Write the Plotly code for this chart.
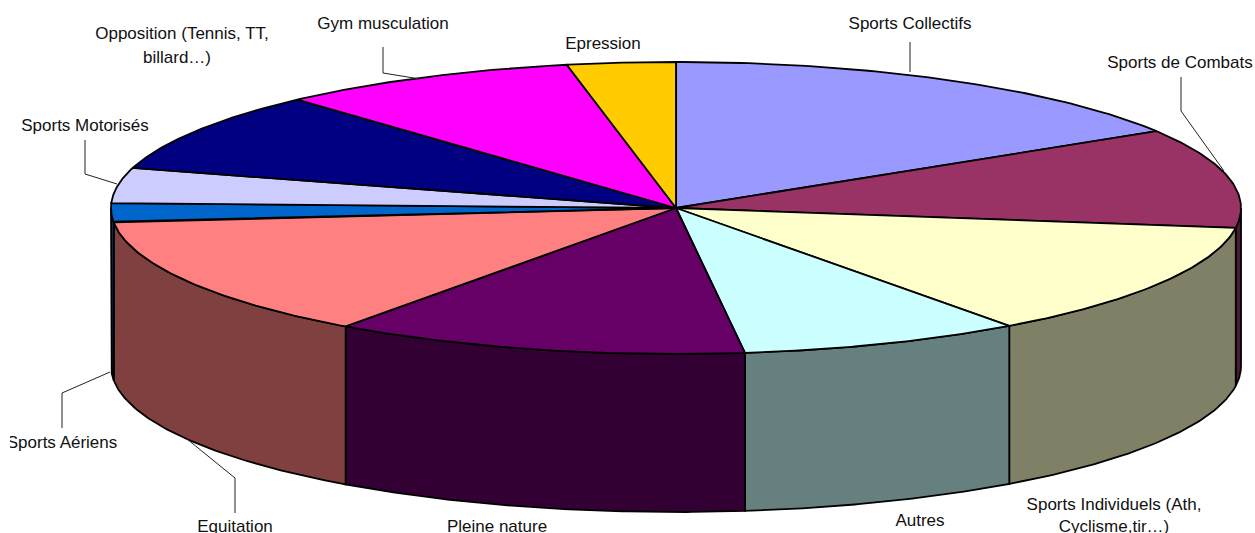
import numpy as np
import plotly.graph_objects as go

categories = ["Sports Collectifs", "Sports de Combats", "Sports Individuels (Ath, Cyclisme,tir…)",
              "Autres", "Pleine nature", "Equitation", "Sports Aériens", "Sports Motorisés",
              "Opposition (Tennis, TT, billard…)", "Gym musculation", "Epression"]
values = [16.2, 11.0, 12.8, 8.1, 11.9, 13.5, 2.1, 3.9, 8.9, 8.6, 3.1]
top_colors = ["#9999FF", "#993366", "#FFFFCC", "#CCFFFF", "#660066", "#FF8080",
              "#0066CC", "#CCCCFF", "#000080", "#FF00FF", "#FFCC00"]
side_colors = ["#4D4D80", "#4D1A33", "#808066", "#668080", "#330033", "#804040",
               "#003366", "#666680", "#000040", "#800080", "#806600"]

# label text lines and where they sit on the page
label_text = ["Sports Collectifs", "Sports de Combats", "Sports Individuels (Ath,", "Cyclisme,tir…)",
              "Autres", "Pleine nature", "Equitation", "Sports Aériens", "Sports Motorisés",
              "Opposition (Tennis, TT,", "billard…)", "Gym musculation", "Epression"]
label_x = [910, 1180, 1114, 1114, 920, 497, 235, 62, 85, 182, 177, 383, 603]
label_y = [25, 64, 506, 528, 522, 528, 528, 444, 127, 35, 59, 25, 45]

# leader lines (elbow paths)
leaders = [
    ([910, 910], [42, 72]),
    ([1181, 1181, 1224], [77, 111, 171]),
    ([383, 383, 420], [47, 73, 79]),
    ([85, 85, 117], [140, 174, 184]),
    ([110, 62, 62], [372, 393, 428]),
    ([187, 235, 235], [439, 478, 513]),
]

CX, CY, RX, RY, DEPTH = 676, 208, 565, 146, 158


def arc(a0, a1, n=80):
    t = np.radians(np.linspace(a0, a1, n))
    return CX + RX * np.sin(t), CY - RY * np.cos(t)


edges = np.concatenate([[0], np.cumsum(values)]) * 360 / sum(values)

fig = go.Figure()

# outer wall of the front half
for i in range(len(values)):
    a0, a1 = max(edges[i], 90), min(edges[i + 1], 270)
    if a1 <= a0:
        continue
    x, y = arc(a0, a1)
    fig.add_trace(go.Scatter(
        x=np.concatenate([x, x[::-1], x[:1]]),
        y=np.concatenate([y, y[::-1] + DEPTH, y[:1]]),
        mode="lines", fill="toself", fillcolor=side_colors[i],
        line=dict(color="black", width=1.8), hoverinfo="skip"))

# top face
for i in range(len(values)):
    x, y = arc(edges[i], edges[i + 1])
    fig.add_trace(go.Scatter(
        x=np.concatenate([[CX], x, [CX]]),
        y=np.concatenate([[CY], y, [CY]]),
        mode="lines", fill="toself", fillcolor=top_colors[i],
        line=dict(color="black", width=1.8), hoverinfo="skip"))

for lx, ly in leaders:
    fig.add_trace(go.Scatter(x=lx, y=ly, mode="lines",
                             line=dict(color="#222222", width=1), hoverinfo="skip"))

fig.add_trace(go.Scatter(
    x=label_x, y=label_y, text=label_text, mode="text", textposition="middle center",
    textfont=dict(family="Liberation Sans", size=17, color="#111111"),
    cliponaxis=True, hoverinfo="skip"))

fig.update_layout(
    width=1255, height=533, showlegend=False,
    margin=dict(l=10, r=0, t=0, b=0),
    paper_bgcolor="white", plot_bgcolor="white",
    xaxis=dict(range=[10, 1255], visible=False),
    yaxis=dict(range=[533, 0], visible=False),
)
fig.write_html("out.html", config={"displayModeBar": False},
               post_script="document.body.style.margin='0';")
